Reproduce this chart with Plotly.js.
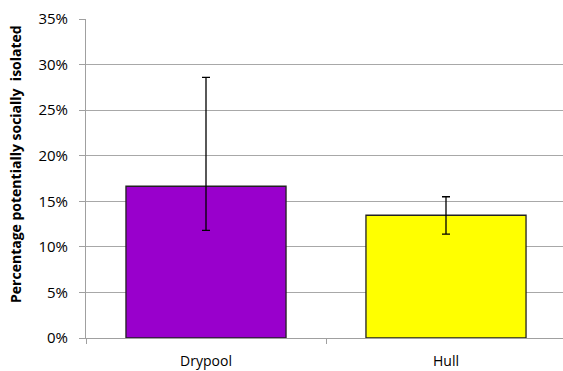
<!DOCTYPE html>
<html>
<head>
<meta charset="utf-8">
<script src="https://cdn.plot.ly/plotly-3.0.1.min.js"></script>
<style>html,body{margin:0;padding:0;background:#fff;overflow:hidden;}#chart{width:567px;height:371px;}</style>
</head>
<body>
<div id="chart"></div>
<script>
const categories = ["Drypool", "Hull"];
const values = [0.1665, 0.1347];
const errPlus = [0.1195, 0.0203];
const errMinus = [0.0485, 0.0207];
const colors = ["#9900CC", "#FFFF00"];
const yTickVals = [0, 0.05, 0.10, 0.15, 0.20, 0.25, 0.30, 0.35];
const yTitle = "Percentage potentially socially  isolated";

const trace = {
  type: "bar",
  x: categories,
  y: values,
  marker: {color: colors, line: {color: "#222222", width: 1.3}},
  error_y: {type: "data", symmetric: false, array: errPlus, arrayminus: errMinus,
            color: "#000000", thickness: 1.3, width: 4},
  hoverinfo: "none"
};

const layout = {
  width: 567, height: 371,
  margin: {l: 86, r: 1, t: 19, b: 33},
  paper_bgcolor: "#ffffff", plot_bgcolor: "#ffffff",
  font: {family: "'Open Sans', sans-serif", size: 13, color: "#000"},
  bargap: 0.333,
  showlegend: false,
  xaxis: {
    type: "category",
    showline: true, linecolor: "#a0a0a0", linewidth: 1,
    ticks: "outside", tickson: "boundaries", ticklen: 5, tickcolor: "#a0a0a0",
    showgrid: false, tickfont: {size: 14}, zeroline: false,
    ticklabelstandoff: 10
  },
  yaxis: {
    range: [0, 0.35],
    tickvals: yTickVals, tickformat: ".0%",
    showline: true, linecolor: "#a0a0a0", linewidth: 1,
    ticks: "outside", ticklen: 6, tickcolor: "#a0a0a0",
    showgrid: true, gridcolor: "#a8a8a8", gridwidth: 1,
    zeroline: false, tickfont: {size: 15},
    ticklabelstandoff: 8
  },
  annotations: [{
    text: "<b>" + yTitle + "</b>", textangle: -90,
    xref: "paper", yref: "paper", x: -0.147, y: 0.547,
    xanchor: "center", yanchor: "middle", showarrow: false,
    font: {size: 14, color: "#000"}
  }]
};

Plotly.newPlot("chart", [trace], layout, {displayModeBar: false, staticPlot: true});
</script>
</body>
</html>
